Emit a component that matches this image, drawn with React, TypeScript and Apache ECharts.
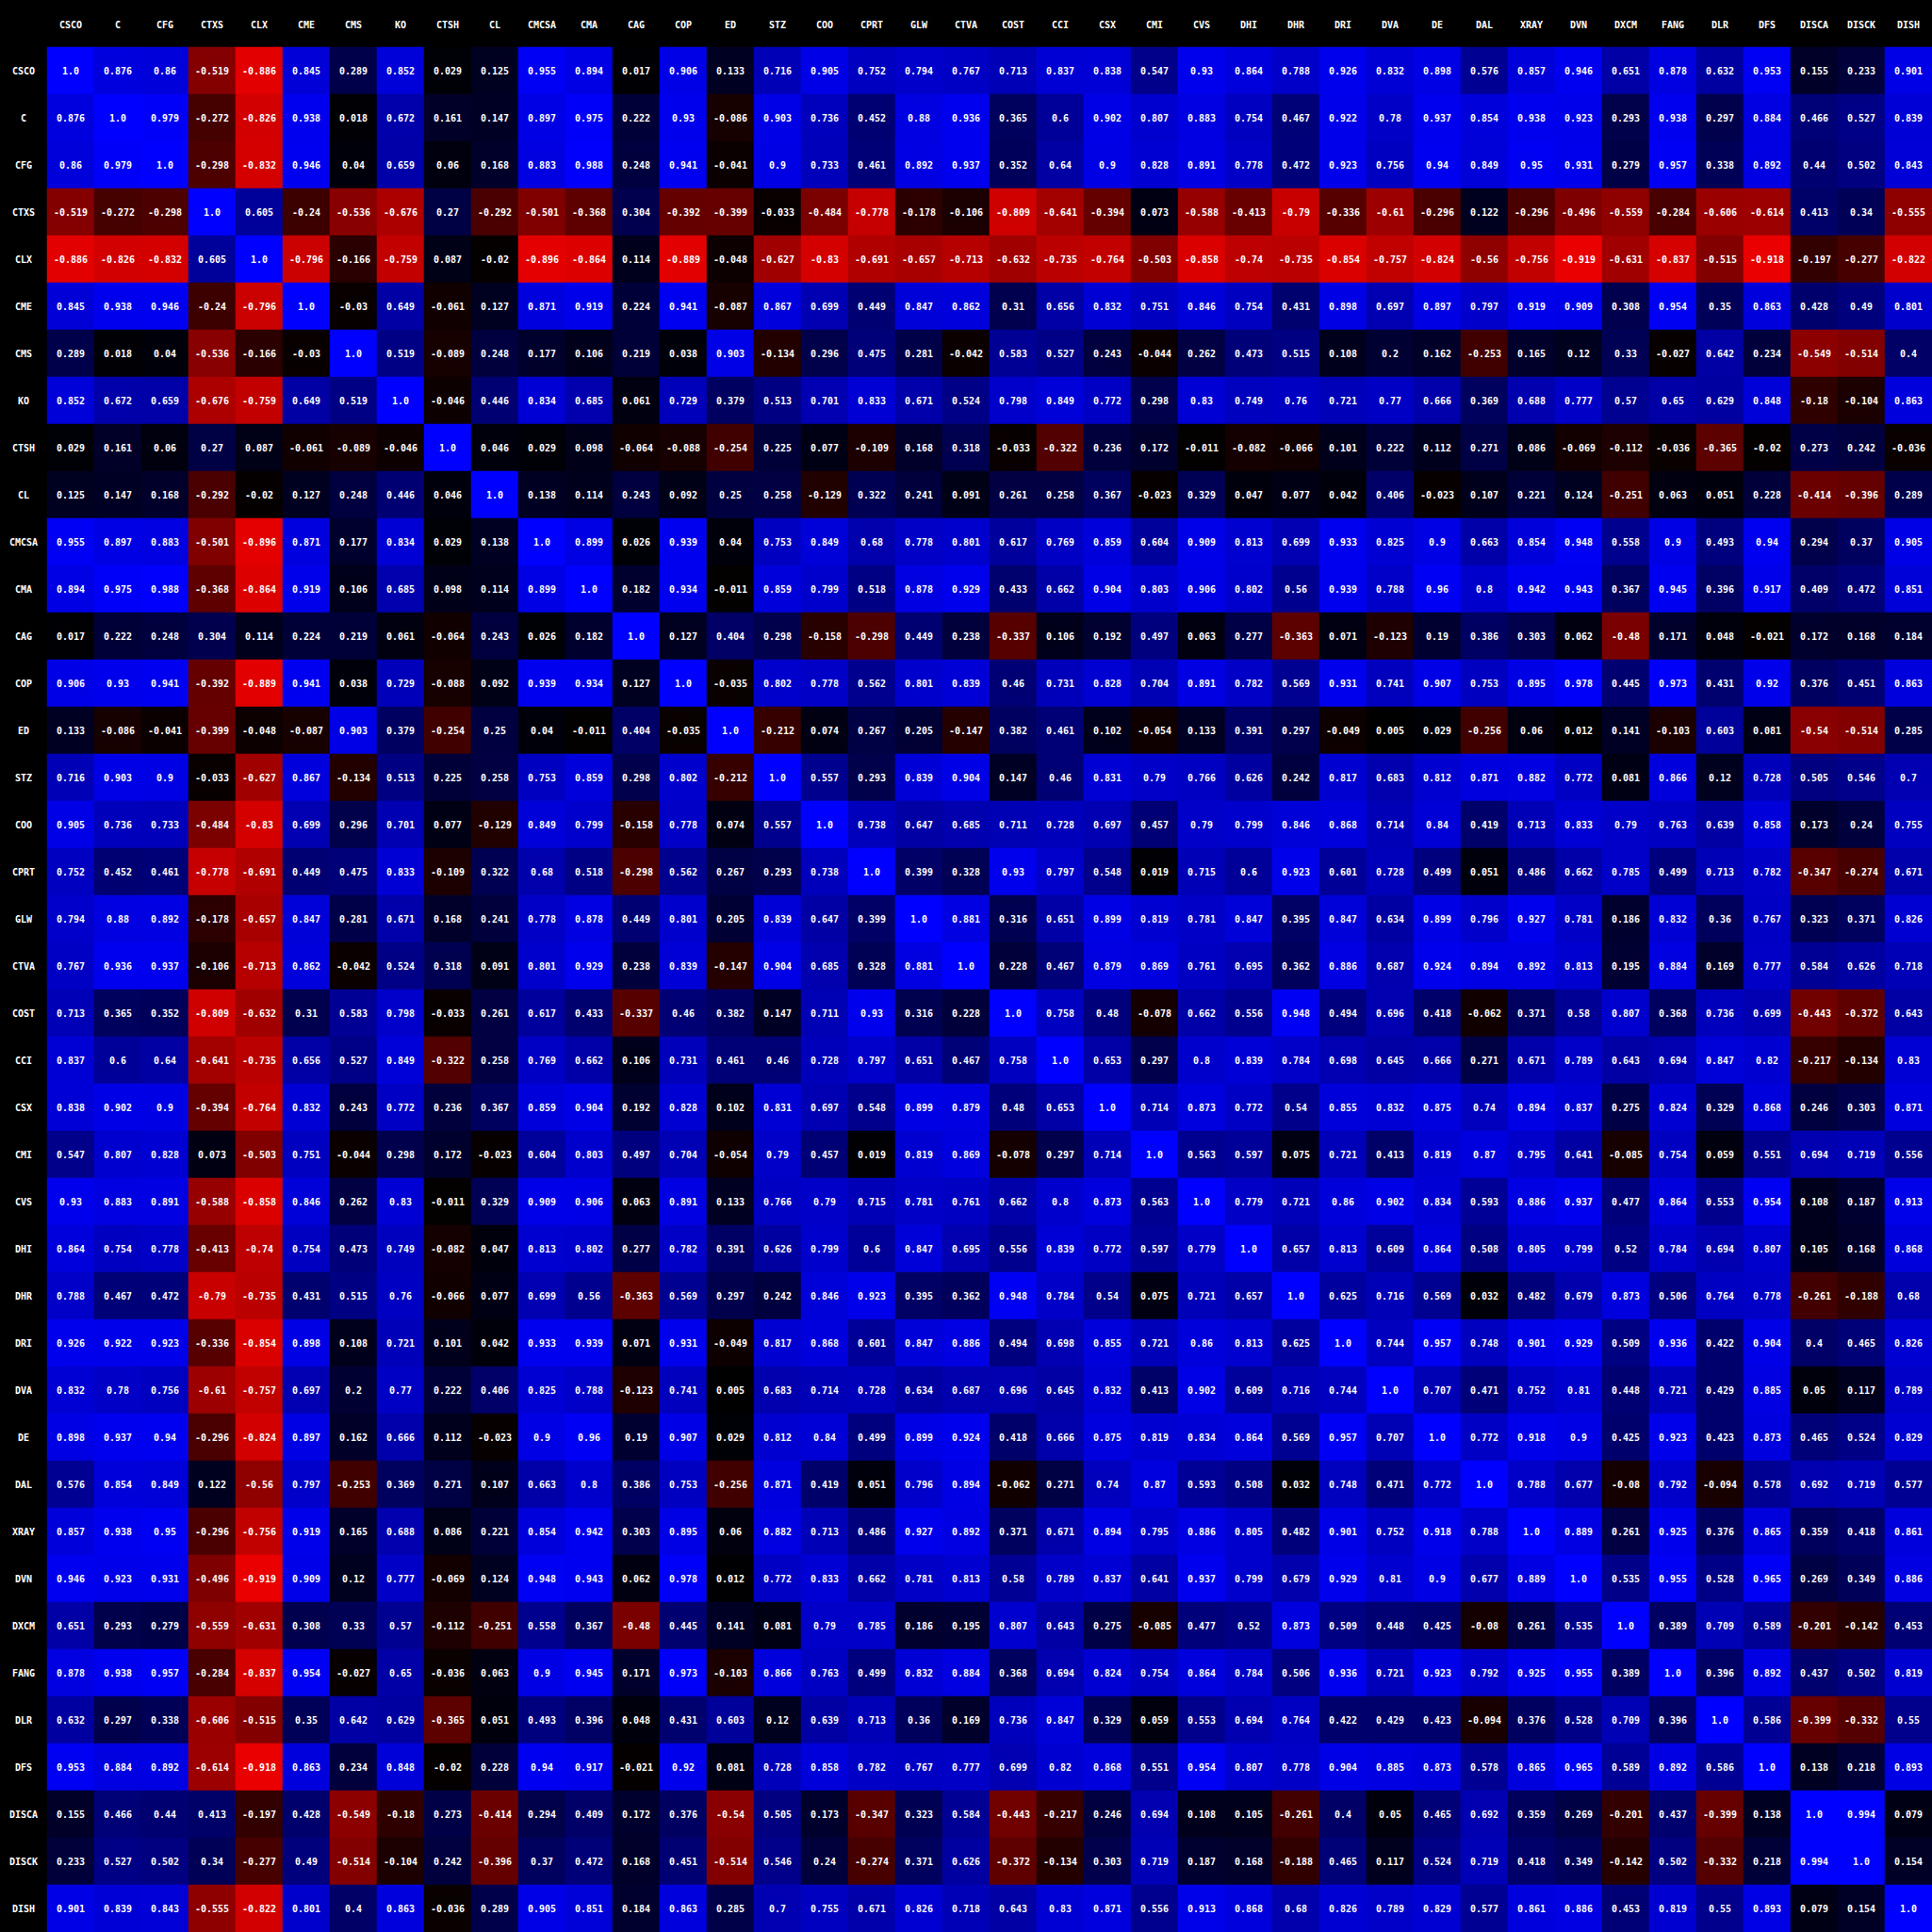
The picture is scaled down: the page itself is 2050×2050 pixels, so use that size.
import React, { useEffect, useRef } from "react";
import * as echarts from "echarts";

const tickers: string[] = [
  "CSCO", "C", "CFG", "CTXS", "CLX", "CME", "CMS", "KO", "CTSH", "CL",
  "CMCSA", "CMA", "CAG", "COP", "ED", "STZ", "COO", "CPRT", "GLW", "CTVA",
  "COST", "CCI", "CSX", "CMI", "CVS", "DHI", "DHR", "DRI", "DVA", "DE",
  "DAL", "XRAY", "DVN", "DXCM", "FANG", "DLR", "DFS", "DISCA", "DISCK", "DISH",
];

const corr: number[][] = [
  [1.0, 0.876, 0.86, -0.519, -0.886, 0.845, 0.289, 0.852, 0.029, 0.125, 0.955, 0.894, 0.017, 0.906, 0.133, 0.716, 0.905, 0.752, 0.794, 0.767, 0.713, 0.837, 0.838, 0.547, 0.93, 0.864, 0.788, 0.926, 0.832, 0.898, 0.576, 0.857, 0.946, 0.651, 0.878, 0.632, 0.953, 0.155, 0.233, 0.901],
  [0.876, 1.0, 0.979, -0.272, -0.826, 0.938, 0.018, 0.672, 0.161, 0.147, 0.897, 0.975, 0.222, 0.93, -0.086, 0.903, 0.736, 0.452, 0.88, 0.936, 0.365, 0.6, 0.902, 0.807, 0.883, 0.754, 0.467, 0.922, 0.78, 0.937, 0.854, 0.938, 0.923, 0.293, 0.938, 0.297, 0.884, 0.466, 0.527, 0.839],
  [0.86, 0.979, 1.0, -0.298, -0.832, 0.946, 0.04, 0.659, 0.06, 0.168, 0.883, 0.988, 0.248, 0.941, -0.041, 0.9, 0.733, 0.461, 0.892, 0.937, 0.352, 0.64, 0.9, 0.828, 0.891, 0.778, 0.472, 0.923, 0.756, 0.94, 0.849, 0.95, 0.931, 0.279, 0.957, 0.338, 0.892, 0.44, 0.502, 0.843],
  [-0.519, -0.272, -0.298, 1.0, 0.605, -0.24, -0.536, -0.676, 0.27, -0.292, -0.501, -0.368, 0.304, -0.392, -0.399, -0.033, -0.484, -0.778, -0.178, -0.106, -0.809, -0.641, -0.394, 0.073, -0.588, -0.413, -0.79, -0.336, -0.61, -0.296, 0.122, -0.296, -0.496, -0.559, -0.284, -0.606, -0.614, 0.413, 0.34, -0.555],
  [-0.886, -0.826, -0.832, 0.605, 1.0, -0.796, -0.166, -0.759, 0.087, -0.02, -0.896, -0.864, 0.114, -0.889, -0.048, -0.627, -0.83, -0.691, -0.657, -0.713, -0.632, -0.735, -0.764, -0.503, -0.858, -0.74, -0.735, -0.854, -0.757, -0.824, -0.56, -0.756, -0.919, -0.631, -0.837, -0.515, -0.918, -0.197, -0.277, -0.822],
  [0.845, 0.938, 0.946, -0.24, -0.796, 1.0, -0.03, 0.649, -0.061, 0.127, 0.871, 0.919, 0.224, 0.941, -0.087, 0.867, 0.699, 0.449, 0.847, 0.862, 0.31, 0.656, 0.832, 0.751, 0.846, 0.754, 0.431, 0.898, 0.697, 0.897, 0.797, 0.919, 0.909, 0.308, 0.954, 0.35, 0.863, 0.428, 0.49, 0.801],
  [0.289, 0.018, 0.04, -0.536, -0.166, -0.03, 1.0, 0.519, -0.089, 0.248, 0.177, 0.106, 0.219, 0.038, 0.903, -0.134, 0.296, 0.475, 0.281, -0.042, 0.583, 0.527, 0.243, -0.044, 0.262, 0.473, 0.515, 0.108, 0.2, 0.162, -0.253, 0.165, 0.12, 0.33, -0.027, 0.642, 0.234, -0.549, -0.514, 0.4],
  [0.852, 0.672, 0.659, -0.676, -0.759, 0.649, 0.519, 1.0, -0.046, 0.446, 0.834, 0.685, 0.061, 0.729, 0.379, 0.513, 0.701, 0.833, 0.671, 0.524, 0.798, 0.849, 0.772, 0.298, 0.83, 0.749, 0.76, 0.721, 0.77, 0.666, 0.369, 0.688, 0.777, 0.57, 0.65, 0.629, 0.848, -0.18, -0.104, 0.863],
  [0.029, 0.161, 0.06, 0.27, 0.087, -0.061, -0.089, -0.046, 1.0, 0.046, 0.029, 0.098, -0.064, -0.088, -0.254, 0.225, 0.077, -0.109, 0.168, 0.318, -0.033, -0.322, 0.236, 0.172, -0.011, -0.082, -0.066, 0.101, 0.222, 0.112, 0.271, 0.086, -0.069, -0.112, -0.036, -0.365, -0.02, 0.273, 0.242, -0.036],
  [0.125, 0.147, 0.168, -0.292, -0.02, 0.127, 0.248, 0.446, 0.046, 1.0, 0.138, 0.114, 0.243, 0.092, 0.25, 0.258, -0.129, 0.322, 0.241, 0.091, 0.261, 0.258, 0.367, -0.023, 0.329, 0.047, 0.077, 0.042, 0.406, -0.023, 0.107, 0.221, 0.124, -0.251, 0.063, 0.051, 0.228, -0.414, -0.396, 0.289],
  [0.955, 0.897, 0.883, -0.501, -0.896, 0.871, 0.177, 0.834, 0.029, 0.138, 1.0, 0.899, 0.026, 0.939, 0.04, 0.753, 0.849, 0.68, 0.778, 0.801, 0.617, 0.769, 0.859, 0.604, 0.909, 0.813, 0.699, 0.933, 0.825, 0.9, 0.663, 0.854, 0.948, 0.558, 0.9, 0.493, 0.94, 0.294, 0.37, 0.905],
  [0.894, 0.975, 0.988, -0.368, -0.864, 0.919, 0.106, 0.685, 0.098, 0.114, 0.899, 1.0, 0.182, 0.934, -0.011, 0.859, 0.799, 0.518, 0.878, 0.929, 0.433, 0.662, 0.904, 0.803, 0.906, 0.802, 0.56, 0.939, 0.788, 0.96, 0.8, 0.942, 0.943, 0.367, 0.945, 0.396, 0.917, 0.409, 0.472, 0.851],
  [0.017, 0.222, 0.248, 0.304, 0.114, 0.224, 0.219, 0.061, -0.064, 0.243, 0.026, 0.182, 1.0, 0.127, 0.404, 0.298, -0.158, -0.298, 0.449, 0.238, -0.337, 0.106, 0.192, 0.497, 0.063, 0.277, -0.363, 0.071, -0.123, 0.19, 0.386, 0.303, 0.062, -0.48, 0.171, 0.048, -0.021, 0.172, 0.168, 0.184],
  [0.906, 0.93, 0.941, -0.392, -0.889, 0.941, 0.038, 0.729, -0.088, 0.092, 0.939, 0.934, 0.127, 1.0, -0.035, 0.802, 0.778, 0.562, 0.801, 0.839, 0.46, 0.731, 0.828, 0.704, 0.891, 0.782, 0.569, 0.931, 0.741, 0.907, 0.753, 0.895, 0.978, 0.445, 0.973, 0.431, 0.92, 0.376, 0.451, 0.863],
  [0.133, -0.086, -0.041, -0.399, -0.048, -0.087, 0.903, 0.379, -0.254, 0.25, 0.04, -0.011, 0.404, -0.035, 1.0, -0.212, 0.074, 0.267, 0.205, -0.147, 0.382, 0.461, 0.102, -0.054, 0.133, 0.391, 0.297, -0.049, 0.005, 0.029, -0.256, 0.06, 0.012, 0.141, -0.103, 0.603, 0.081, -0.54, -0.514, 0.285],
  [0.716, 0.903, 0.9, -0.033, -0.627, 0.867, -0.134, 0.513, 0.225, 0.258, 0.753, 0.859, 0.298, 0.802, -0.212, 1.0, 0.557, 0.293, 0.839, 0.904, 0.147, 0.46, 0.831, 0.79, 0.766, 0.626, 0.242, 0.817, 0.683, 0.812, 0.871, 0.882, 0.772, 0.081, 0.866, 0.12, 0.728, 0.505, 0.546, 0.7],
  [0.905, 0.736, 0.733, -0.484, -0.83, 0.699, 0.296, 0.701, 0.077, -0.129, 0.849, 0.799, -0.158, 0.778, 0.074, 0.557, 1.0, 0.738, 0.647, 0.685, 0.711, 0.728, 0.697, 0.457, 0.79, 0.799, 0.846, 0.868, 0.714, 0.84, 0.419, 0.713, 0.833, 0.79, 0.763, 0.639, 0.858, 0.173, 0.24, 0.755],
  [0.752, 0.452, 0.461, -0.778, -0.691, 0.449, 0.475, 0.833, -0.109, 0.322, 0.68, 0.518, -0.298, 0.562, 0.267, 0.293, 0.738, 1.0, 0.399, 0.328, 0.93, 0.797, 0.548, 0.019, 0.715, 0.6, 0.923, 0.601, 0.728, 0.499, 0.051, 0.486, 0.662, 0.785, 0.499, 0.713, 0.782, -0.347, -0.274, 0.671],
  [0.794, 0.88, 0.892, -0.178, -0.657, 0.847, 0.281, 0.671, 0.168, 0.241, 0.778, 0.878, 0.449, 0.801, 0.205, 0.839, 0.647, 0.399, 1.0, 0.881, 0.316, 0.651, 0.899, 0.819, 0.781, 0.847, 0.395, 0.847, 0.634, 0.899, 0.796, 0.927, 0.781, 0.186, 0.832, 0.36, 0.767, 0.323, 0.371, 0.826],
  [0.767, 0.936, 0.937, -0.106, -0.713, 0.862, -0.042, 0.524, 0.318, 0.091, 0.801, 0.929, 0.238, 0.839, -0.147, 0.904, 0.685, 0.328, 0.881, 1.0, 0.228, 0.467, 0.879, 0.869, 0.761, 0.695, 0.362, 0.886, 0.687, 0.924, 0.894, 0.892, 0.813, 0.195, 0.884, 0.169, 0.777, 0.584, 0.626, 0.718],
  [0.713, 0.365, 0.352, -0.809, -0.632, 0.31, 0.583, 0.798, -0.033, 0.261, 0.617, 0.433, -0.337, 0.46, 0.382, 0.147, 0.711, 0.93, 0.316, 0.228, 1.0, 0.758, 0.48, -0.078, 0.662, 0.556, 0.948, 0.494, 0.696, 0.418, -0.062, 0.371, 0.58, 0.807, 0.368, 0.736, 0.699, -0.443, -0.372, 0.643],
  [0.837, 0.6, 0.64, -0.641, -0.735, 0.656, 0.527, 0.849, -0.322, 0.258, 0.769, 0.662, 0.106, 0.731, 0.461, 0.46, 0.728, 0.797, 0.651, 0.467, 0.758, 1.0, 0.653, 0.297, 0.8, 0.839, 0.784, 0.698, 0.645, 0.666, 0.271, 0.671, 0.789, 0.643, 0.694, 0.847, 0.82, -0.217, -0.134, 0.83],
  [0.838, 0.902, 0.9, -0.394, -0.764, 0.832, 0.243, 0.772, 0.236, 0.367, 0.859, 0.904, 0.192, 0.828, 0.102, 0.831, 0.697, 0.548, 0.899, 0.879, 0.48, 0.653, 1.0, 0.714, 0.873, 0.772, 0.54, 0.855, 0.832, 0.875, 0.74, 0.894, 0.837, 0.275, 0.824, 0.329, 0.868, 0.246, 0.303, 0.871],
  [0.547, 0.807, 0.828, 0.073, -0.503, 0.751, -0.044, 0.298, 0.172, -0.023, 0.604, 0.803, 0.497, 0.704, -0.054, 0.79, 0.457, 0.019, 0.819, 0.869, -0.078, 0.297, 0.714, 1.0, 0.563, 0.597, 0.075, 0.721, 0.413, 0.819, 0.87, 0.795, 0.641, -0.085, 0.754, 0.059, 0.551, 0.694, 0.719, 0.556],
  [0.93, 0.883, 0.891, -0.588, -0.858, 0.846, 0.262, 0.83, -0.011, 0.329, 0.909, 0.906, 0.063, 0.891, 0.133, 0.766, 0.79, 0.715, 0.781, 0.761, 0.662, 0.8, 0.873, 0.563, 1.0, 0.779, 0.721, 0.86, 0.902, 0.834, 0.593, 0.886, 0.937, 0.477, 0.864, 0.553, 0.954, 0.108, 0.187, 0.913],
  [0.864, 0.754, 0.778, -0.413, -0.74, 0.754, 0.473, 0.749, -0.082, 0.047, 0.813, 0.802, 0.277, 0.782, 0.391, 0.626, 0.799, 0.6, 0.847, 0.695, 0.556, 0.839, 0.772, 0.597, 0.779, 1.0, 0.657, 0.813, 0.609, 0.864, 0.508, 0.805, 0.799, 0.52, 0.784, 0.694, 0.807, 0.105, 0.168, 0.868],
  [0.788, 0.467, 0.472, -0.79, -0.735, 0.431, 0.515, 0.76, -0.066, 0.077, 0.699, 0.56, -0.363, 0.569, 0.297, 0.242, 0.846, 0.923, 0.395, 0.362, 0.948, 0.784, 0.54, 0.075, 0.721, 0.657, 1.0, 0.625, 0.716, 0.569, 0.032, 0.482, 0.679, 0.873, 0.506, 0.764, 0.778, -0.261, -0.188, 0.68],
  [0.926, 0.922, 0.923, -0.336, -0.854, 0.898, 0.108, 0.721, 0.101, 0.042, 0.933, 0.939, 0.071, 0.931, -0.049, 0.817, 0.868, 0.601, 0.847, 0.886, 0.494, 0.698, 0.855, 0.721, 0.86, 0.813, 0.625, 1.0, 0.744, 0.957, 0.748, 0.901, 0.929, 0.509, 0.936, 0.422, 0.904, 0.4, 0.465, 0.826],
  [0.832, 0.78, 0.756, -0.61, -0.757, 0.697, 0.2, 0.77, 0.222, 0.406, 0.825, 0.788, -0.123, 0.741, 0.005, 0.683, 0.714, 0.728, 0.634, 0.687, 0.696, 0.645, 0.832, 0.413, 0.902, 0.609, 0.716, 0.744, 1.0, 0.707, 0.471, 0.752, 0.81, 0.448, 0.721, 0.429, 0.885, 0.05, 0.117, 0.789],
  [0.898, 0.937, 0.94, -0.296, -0.824, 0.897, 0.162, 0.666, 0.112, -0.023, 0.9, 0.96, 0.19, 0.907, 0.029, 0.812, 0.84, 0.499, 0.899, 0.924, 0.418, 0.666, 0.875, 0.819, 0.834, 0.864, 0.569, 0.957, 0.707, 1.0, 0.772, 0.918, 0.9, 0.425, 0.923, 0.423, 0.873, 0.465, 0.524, 0.829],
  [0.576, 0.854, 0.849, 0.122, -0.56, 0.797, -0.253, 0.369, 0.271, 0.107, 0.663, 0.8, 0.386, 0.753, -0.256, 0.871, 0.419, 0.051, 0.796, 0.894, -0.062, 0.271, 0.74, 0.87, 0.593, 0.508, 0.032, 0.748, 0.471, 0.772, 1.0, 0.788, 0.677, -0.08, 0.792, -0.094, 0.578, 0.692, 0.719, 0.577],
  [0.857, 0.938, 0.95, -0.296, -0.756, 0.919, 0.165, 0.688, 0.086, 0.221, 0.854, 0.942, 0.303, 0.895, 0.06, 0.882, 0.713, 0.486, 0.927, 0.892, 0.371, 0.671, 0.894, 0.795, 0.886, 0.805, 0.482, 0.901, 0.752, 0.918, 0.788, 1.0, 0.889, 0.261, 0.925, 0.376, 0.865, 0.359, 0.418, 0.861],
  [0.946, 0.923, 0.931, -0.496, -0.919, 0.909, 0.12, 0.777, -0.069, 0.124, 0.948, 0.943, 0.062, 0.978, 0.012, 0.772, 0.833, 0.662, 0.781, 0.813, 0.58, 0.789, 0.837, 0.641, 0.937, 0.799, 0.679, 0.929, 0.81, 0.9, 0.677, 0.889, 1.0, 0.535, 0.955, 0.528, 0.965, 0.269, 0.349, 0.886],
  [0.651, 0.293, 0.279, -0.559, -0.631, 0.308, 0.33, 0.57, -0.112, -0.251, 0.558, 0.367, -0.48, 0.445, 0.141, 0.081, 0.79, 0.785, 0.186, 0.195, 0.807, 0.643, 0.275, -0.085, 0.477, 0.52, 0.873, 0.509, 0.448, 0.425, -0.08, 0.261, 0.535, 1.0, 0.389, 0.709, 0.589, -0.201, -0.142, 0.453],
  [0.878, 0.938, 0.957, -0.284, -0.837, 0.954, -0.027, 0.65, -0.036, 0.063, 0.9, 0.945, 0.171, 0.973, -0.103, 0.866, 0.763, 0.499, 0.832, 0.884, 0.368, 0.694, 0.824, 0.754, 0.864, 0.784, 0.506, 0.936, 0.721, 0.923, 0.792, 0.925, 0.955, 0.389, 1.0, 0.396, 0.892, 0.437, 0.502, 0.819],
  [0.632, 0.297, 0.338, -0.606, -0.515, 0.35, 0.642, 0.629, -0.365, 0.051, 0.493, 0.396, 0.048, 0.431, 0.603, 0.12, 0.639, 0.713, 0.36, 0.169, 0.736, 0.847, 0.329, 0.059, 0.553, 0.694, 0.764, 0.422, 0.429, 0.423, -0.094, 0.376, 0.528, 0.709, 0.396, 1.0, 0.586, -0.399, -0.332, 0.55],
  [0.953, 0.884, 0.892, -0.614, -0.918, 0.863, 0.234, 0.848, -0.02, 0.228, 0.94, 0.917, -0.021, 0.92, 0.081, 0.728, 0.858, 0.782, 0.767, 0.777, 0.699, 0.82, 0.868, 0.551, 0.954, 0.807, 0.778, 0.904, 0.885, 0.873, 0.578, 0.865, 0.965, 0.589, 0.892, 0.586, 1.0, 0.138, 0.218, 0.893],
  [0.155, 0.466, 0.44, 0.413, -0.197, 0.428, -0.549, -0.18, 0.273, -0.414, 0.294, 0.409, 0.172, 0.376, -0.54, 0.505, 0.173, -0.347, 0.323, 0.584, -0.443, -0.217, 0.246, 0.694, 0.108, 0.105, -0.261, 0.4, 0.05, 0.465, 0.692, 0.359, 0.269, -0.201, 0.437, -0.399, 0.138, 1.0, 0.994, 0.079],
  [0.233, 0.527, 0.502, 0.34, -0.277, 0.49, -0.514, -0.104, 0.242, -0.396, 0.37, 0.472, 0.168, 0.451, -0.514, 0.546, 0.24, -0.274, 0.371, 0.626, -0.372, -0.134, 0.303, 0.719, 0.187, 0.168, -0.188, 0.465, 0.117, 0.524, 0.719, 0.418, 0.349, -0.142, 0.502, -0.332, 0.218, 0.994, 1.0, 0.154],
  [0.901, 0.839, 0.843, -0.555, -0.822, 0.801, 0.4, 0.863, -0.036, 0.289, 0.905, 0.851, 0.184, 0.863, 0.285, 0.7, 0.755, 0.671, 0.826, 0.718, 0.643, 0.83, 0.871, 0.556, 0.913, 0.868, 0.68, 0.826, 0.789, 0.829, 0.577, 0.861, 0.886, 0.453, 0.819, 0.55, 0.893, 0.079, 0.154, 1.0],
];

const fmt = (v: number): string => (Number.isInteger(v) ? v.toFixed(1) : String(v));

export default function App() {
  const ref = useRef<HTMLDivElement>(null);

  useEffect(() => {
    if (!ref.current) return;
    const chart = echarts.init(ref.current, null, { renderer: "svg" });

    const data: [number, number, number][] = [];
    corr.forEach((row, r) => {
      row.forEach((v, c) => {
        data.push([c, r, v]);
      });
    });

    const labelFont = {
      color: "#ffffff",
      fontFamily: "DejaVu Sans Mono",
      fontWeight: "bold" as const,
      fontSize: 10,
    };

    chart.setOption({
      animation: false,
      backgroundColor: "#000000",
      grid: { left: 50, top: 50, width: 2000, height: 2000, containLabel: false },
      xAxis: {
        type: "category",
        data: tickers,
        position: "top",
        axisLine: { show: false },
        axisTick: { show: false },
        splitLine: { show: false },
        axisLabel: {
          ...labelFont,
          interval: 0,
          margin: 24,
          verticalAlign: "middle",
        },
      },
      yAxis: {
        type: "category",
        data: tickers,
        inverse: true,
        axisLine: { show: false },
        axisTick: { show: false },
        splitLine: { show: false },
        axisLabel: {
          ...labelFont,
          interval: 0,
          margin: 25,
          align: "center",
        },
      },
      visualMap: {
        show: false,
        type: "continuous",
        min: -1,
        max: 1,
        dimension: 2,
        inRange: { color: ["#ff0000", "#000000", "#0000ff"] },
      },
      series: [
        {
          type: "heatmap",
          data,
          itemStyle: { borderWidth: 0 },
          emphasis: { disabled: true },
          label: {
            show: true,
            ...labelFont,
            formatter: (p: any) => fmt(p.value[2]),
          },
        },
      ],
    });

    return () => chart.dispose();
  }, []);

  return (
    <div
      ref={ref}
      style={{ position: "absolute", left: 0, top: 0, width: 2050, height: 2050 }}
    />
  );
}
